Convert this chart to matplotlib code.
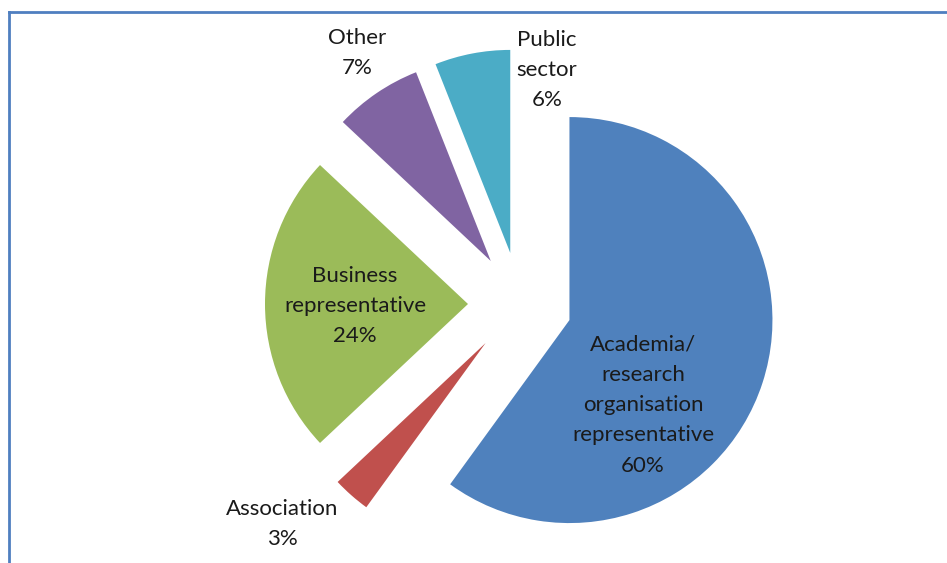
import matplotlib.pyplot as plt
from matplotlib.lines import Line2D

# data
categories = ["Academia/\nresearch\norganisation\nrepresentative",
              "Association", "Business\nrepresentative", "Other", "Public\nsector"]
shares = [60, 3, 24, 7, 6]
colors = ["#4F81BD", "#C0504D", "#9BBB59", "#8064A2", "#4BACC6"]

# label centres in pixel coords (x, y from top)
label_pos = [(643, 405), (282, 524), (355, 306), (357, 53), (547, 70)]

W, H = 947, 563
fig = plt.figure(figsize=(W / 100, H / 100), dpi=100)
ax = fig.add_axes([0, 0, 1, 1])

# explode is in data units here (pixels)
ax.pie(shares, colors=colors, radius=203, center=(520, H - 304),
       startangle=90, counterclock=False, explode=[52] * len(shares),
       wedgeprops=dict(linewidth=0))
ax.set_xlim(0, W)
ax.set_ylim(0, H)
ax.set_aspect("equal")
ax.axis("off")

for name, val, (x, y) in zip(categories, shares, label_pos):
    ax.text(x, H - y, f"{name}\n{val}%", ha="center", va="center",
            fontsize=16, family="Lato", color="#1a1a1a", linespacing=1.65)

# chart border (top and left only visible)
bc = "#4F7FC0"
fig.add_artist(Line2D([9 / W, 1], [1 - 12 / H, 1 - 12 / H], color=bc, lw=2))
fig.add_artist(Line2D([9 / W, 9 / W], [0, 1 - 12 / H], color=bc, lw=2))

fig.savefig("out.png", dpi=100)
